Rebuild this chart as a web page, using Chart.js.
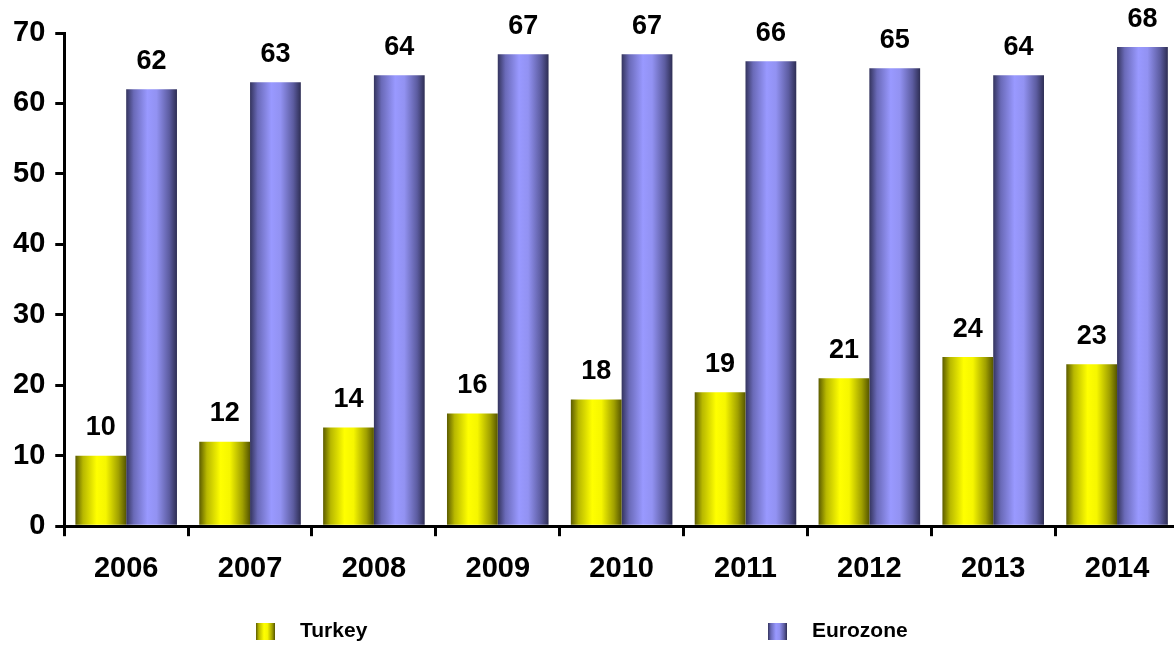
<!DOCTYPE html>
<html>
<head>
<meta charset="utf-8">
<script src="https://cdn.jsdelivr.net/npm/chart.js@4/dist/chart.umd.min.js"></script>
<style>
  html, body { margin: 0; padding: 0; background: #fff; overflow: hidden; }
  #wrap { position: relative; width: 1180px; height: 646px; }
</style>
</head>
<body>
<div id="wrap"><canvas id="c"></canvas></div>
<script>
const years = ['2006', '2007', '2008', '2009', '2010', '2011', '2012', '2013', '2014'];
const turkey = [10, 12, 14, 16, 18, 19, 21, 24, 23];
const eurozone = [62, 63, 64, 67, 67, 66, 65, 64, 68];
const yTicks = [0, 10, 20, 30, 40, 50, 60, 70];

const FONT = "'Liberation Sans', Arial, sans-serif";

// colour stops for the cylinder-like shading across each bar
const shades = {
  Turkey:   [[0, '#5c5c00'], [0.15, '#b8b800'], [0.42, '#ffff00'], [0.6, '#f6f600'], [0.85, '#a0a000'], [1, '#565600']],
  Eurozone: [[0, '#34345e'], [0.15, '#6a6ab8'], [0.42, '#9999ff'], [0.6, '#9292f2'], [0.85, '#5c5ca0'], [1, '#2e2e54']]
};

function shadeFor(ctx, label, x0, x1) {
  const g = ctx.createLinearGradient(x0, 0, x1, 0);
  shades[label].forEach(([p, c]) => g.addColorStop(p, c));
  return g;
}

// give every bar its own gradient spanning its own width
const barShading = {
  id: 'barShading',
  beforeDatasetsDraw(chart) {
    const ctx = chart.ctx;
    chart.data.datasets.forEach((ds, i) => {
      const meta = chart.getDatasetMeta(i);
      meta.data.forEach(el => {
        const { x, width } = el.getProps(['x', 'width'], true);
        el.options = Object.assign({}, el.options, {
          backgroundColor: shadeFor(ctx, ds.label, x - width / 2, x + width / 2)
        });
      });
    });
  }
};

const valueLabels = {
  id: 'valueLabels',
  afterDatasetsDraw(chart) {
    const ctx = chart.ctx;
    ctx.save();
    ctx.font = 'bold 27px ' + FONT;
    ctx.fillStyle = '#000';
    ctx.textAlign = 'center';
    ctx.textBaseline = 'middle';
    chart.data.datasets.forEach((ds, i) => {
      chart.getDatasetMeta(i).data.forEach((el, j) => {
        const { x, y } = el.getProps(['x', 'y'], true);
        ctx.fillText(String(ds.data[j]), x, y - 28);
      });
    });
    ctx.restore();
  }
};

const bottomLegend = {
  id: 'bottomLegend',
  afterDraw(chart) {
    const ctx = chart.ctx;
    const items = [
      { label: 'Turkey', x: 256 },
      { label: 'Eurozone', x: 768 }
    ];
    ctx.save();
    ctx.font = 'bold 21px ' + FONT;
    ctx.textBaseline = 'middle';
    ctx.textAlign = 'left';
    items.forEach(it => {
      const bx = it.x, by = 623, bw = 19, bh = 17;
      ctx.fillStyle = shadeFor(ctx, it.label, bx, bx + bw);
      ctx.fillRect(bx, by, bw, bh);
      ctx.fillStyle = '#000';
      ctx.fillText(it.label, bx + 44, by + bh / 2);
    });
    ctx.restore();
  }
};

new Chart(document.getElementById('c'), {
  type: 'bar',
  data: {
    labels: years,
    datasets: [
      { label: 'Turkey', data: turkey, borderWidth: 0 },
      { label: 'Eurozone', data: eurozone, borderWidth: 0 }
    ]
  },
  options: {
    responsive: true,
    maintainAspectRatio: false,
    animation: false,
    events: [],
    layout: { padding: { left: 3, right: 1, top: 33, bottom: 45 } },
    datasets: { bar: { categoryPercentage: 0.82, barPercentage: 1.0 } },
    plugins: { legend: { display: false }, tooltip: { enabled: false } },
    scales: {
      x: {
        offset: true,
        grid: { display: true, drawOnChartArea: false, offset: true, color: '#000', lineWidth: 3, tickLength: 10 },
        border: { display: true, color: '#000', width: 3 },
        ticks: { color: '#000', font: { family: FONT, size: 29, weight: 'bold' }, padding: 15, maxRotation: 0 }
      },
      y: {
        min: 0,
        max: 70,
        afterBuildTicks(axis) { axis.ticks = yTicks.map(v => ({ value: v })); },
        grid: { display: true, drawOnChartArea: false, color: '#000', lineWidth: 3, tickLength: 9 },
        border: { display: true, color: '#000', width: 3 },
        ticks: { color: '#000', font: { family: FONT, size: 29, weight: 'bold' }, padding: 10 }
      }
    }
  },
  plugins: [barShading, valueLabels, bottomLegend]
});
</script>
</body>
</html>
